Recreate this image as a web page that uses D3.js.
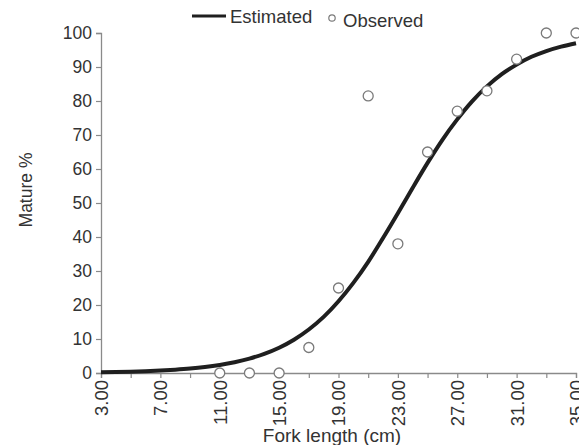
<!DOCTYPE html>
<html><head><meta charset="utf-8">
<script src="https://cdn.jsdelivr.net/npm/d3@7"></script>
<style>body{margin:0;background:#fff}svg{display:block;font-family:"Liberation Sans",Arial,sans-serif}</style>
</head><body>
<script>
const obsLength = [11,13,15,17,19,21,23,25,27,29,31,33,35];
const obsMature = [0,0,0,7.5,25,81.5,38,65,77,83,92.3,100,100];
const estLength = [3,4,5,6,7,8,9,10,11,12,13,14,15,16,17,18,19,20,21,22,23,24,25,26,27,28,29,30,31,32,33,34,35];
const estMature = [0.22,0.30,0.40,0.54,0.72,0.98,1.31,1.76,2.37,3.17,4.23,5.63,7.44,9.8,12.8,16.5,21.1,26.5,32.7,39.7,47.0,54.5,61.8,68.6,74.6,79.9,84.3,87.9,90.7,93.0,94.7,96.0,97.0];
const xTickLabels = [3,7,11,15,19,23,27,31,35];
const xMinorTicks = [3,5,7,9,11,13,15,17,19,21,23,25,27,29,31,33,35];
const yTicks = [0,10,20,30,40,50,60,70,80,90,100];

const W=579,H=445;
const svg=d3.select("body").append("svg").attr("width",W).attr("height",H);
const x=d3.scaleLinear().domain([3,35]).range([101,576]);
const y=d3.scaleLinear().domain([0,100]).range([373,33]);
const axisCol="#8a8a8a", txt="#333";

// y axis
const ya=svg.append("g").attr("transform","translate(101,0)")
  .call(d3.axisLeft(y).tickValues(yTicks).tickSize(5).tickPadding(4).tickFormat(d3.format("d")));
ya.select(".domain").attr("stroke",axisCol).attr("stroke-width",1.3);
ya.selectAll(".tick line").attr("stroke",axisCol).attr("stroke-width",1.2);
ya.selectAll(".tick text").attr("fill",txt).style("font-size","17.5px");

// x axis minor ticks
const xa=svg.append("g").attr("transform","translate(0,373)")
  .call(d3.axisBottom(x).tickValues(xMinorTicks).tickSize(5).tickFormat(""));
xa.select(".domain").attr("stroke",axisCol).attr("stroke-width",1.3);
xa.selectAll(".tick line").attr("stroke",axisCol).attr("stroke-width",1.2);
const xl=svg.append("g").attr("transform","translate(0,373)")
  .call(d3.axisBottom(x).tickValues(xTickLabels).tickSize(0).tickFormat(d3.format(".2f")));
xl.select(".domain").remove();
xl.selectAll(".tick text").attr("fill",txt).style("font-size","18.5px")
  .attr("transform","rotate(-90)").attr("text-anchor","end")
  .attr("x",-7).attr("y",0).attr("dy","0.35em");

// axis titles
svg.append("text").attr("x",332).attr("y",442).attr("text-anchor","middle")
  .attr("fill",txt).style("font-size","19px").text("Fork length (cm)");
svg.append("text").attr("transform","translate(32,190) rotate(-90)").attr("text-anchor","middle")
  .attr("fill",txt).style("font-size","17.5px").text("Mature %");

// curve
const line=d3.line().x((d,i)=>x(estLength[i])).y(d=>y(d)).curve(d3.curveMonotoneX);
svg.append("path").datum(estMature).attr("d",line).attr("fill","none")
  .attr("stroke","#1f1f1f").attr("stroke-width",4);

// points
svg.append("g").selectAll("circle").data(obsMature).join("circle")
  .attr("cx",(d,i)=>x(obsLength[i])).attr("cy",d=>y(d)).attr("r",5)
  .attr("fill","#fff").attr("stroke","#7a7a7a").attr("stroke-width",1.3);

// legend
svg.append("line").attr("x1",192).attr("x2",226).attr("y1",16).attr("y2",16)
  .attr("stroke","#1f1f1f").attr("stroke-width",3);
svg.append("text").attr("x",230).attr("y",23).attr("fill",txt).style("font-size","18.5px").text("Estimated");
svg.append("circle").attr("cx",332).attr("cy",18).attr("r",3.2).attr("fill","#fff").attr("stroke","#7a7a7a").attr("stroke-width",1.2);
svg.append("text").attr("x",343).attr("y",27).attr("fill",txt).style("font-size","18.5px").text("Observed");
</script>
</body></html>
